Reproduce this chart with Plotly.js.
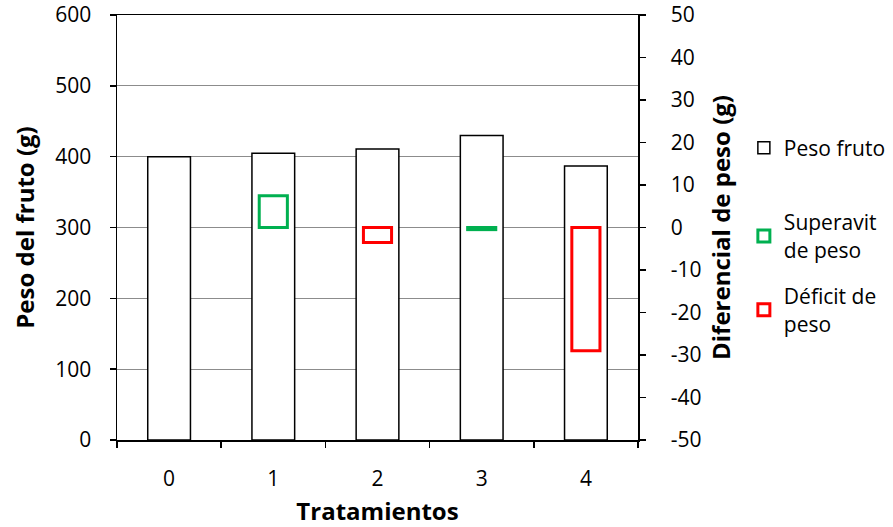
<!DOCTYPE html>
<html>
<head>
<meta charset="utf-8">
<script src="https://cdn.plot.ly/plotly-3.0.1.min.js"></script>
<style>html,body{margin:0;padding:0;background:#fff;}#chart{width:893px;height:527px;}</style>
</head>
<body>
<div id="chart"></div>
<script>
const categories = ["0", "1", "2", "3", "4"];
const pesoFruto = [400, 405, 411, 430, 387];
const superavit = [null, 7.5, null, -0.5, null];
const deficit = [null, null, -3.5, null, -29];
const yTicks = [0, 100, 200, 300, 400, 500, 600];
const y2Ticks = [-50, -40, -30, -20, -10, 0, 10, 20, 30, 40, 50];
const y2TickLabels = ["-50", "-40", "-30", "-20", "-10", "0", "10", "20", "30", "40", "50"];

const FONT = "Open Sans, sans-serif";

const traces = [
  {
    type: "bar", name: "Peso fruto", x: categories, y: pesoFruto,
    width: 0.41, marker: {color: "#ffffff", line: {color: "#000000", width: 1.5}},
    yaxis: "y", legend: "legend", hoverinfo: "skip"
  },
  {
    type: "bar", name: "Superavit<br>de peso", x: categories, y: superavit,
    width: 0.27, marker: {color: "#ffffff", line: {color: "#00B050", width: 3}},
    yaxis: "y2", legend: "legend2", hoverinfo: "skip"
  },
  {
    type: "bar", name: "Déficit de<br>peso", x: categories, y: deficit,
    width: 0.27, marker: {color: "#ffffff", line: {color: "#FF0000", width: 3}},
    yaxis: "y2", legend: "legend3", hoverinfo: "skip"
  }
];

const legendBase = {
  xref: "container", yref: "container",
  xanchor: "left", yanchor: "middle", bgcolor: "rgba(0,0,0,0)",
  font: {family: FONT, size: 21, color: "#000"}, itemwidth: 30
};

const layout = {
  width: 893, height: 527,
  margin: {l: 117, r: 255, t: 15, b: 87, autoexpand: false},
  paper_bgcolor: "#ffffff", plot_bgcolor: "#ffffff",
  barmode: "overlay",
  font: {family: FONT, size: 21, color: "#000"},
  xaxis: {
    type: "category", categoryorder: "array", categoryarray: categories,
    tickson: "boundaries", ticks: "outside", ticklen: 6, tickwidth: 1.5, tickcolor: "#000",
    showline: true, linecolor: "#000", linewidth: 1.5, mirror: true,
    showgrid: false, ticklabelstandoff: 19,
    tickfont: {family: FONT, size: 21},
    title: {text: "<b>Tratamientos</b>", font: {family: FONT, size: 24}, standoff: 14}
  },
  yaxis: {
    range: [0, 600], tickvals: yTicks, ticks: "outside", ticklen: 6, tickwidth: 1.5, tickcolor: "#000",
    showline: true, linecolor: "#000", linewidth: 1.5,
    showgrid: true, gridcolor: "#8c8c8c", gridwidth: 1, zeroline: false,
    ticklabelstandoff: 14, tickfont: {family: FONT, size: 21},
    title: {text: "<b>Peso del fruto (g)</b>", font: {family: FONT, size: 24}, standoff: 14}
  },
  yaxis2: {
    overlaying: "y", side: "right", range: [-50, 50], tickvals: y2Ticks, ticktext: y2TickLabels,
    ticks: "outside", ticklen: 6, tickwidth: 1.5, tickcolor: "#000",
    showline: true, linecolor: "#000", linewidth: 1.5,
    showgrid: false, zeroline: false,
    ticklabelstandoff: 21, tickfont: {family: FONT, size: 21},
    title: {text: "<b>Diferencial de peso (g)</b>", font: {family: FONT, size: 24}, standoff: 12}
  },
  legend: Object.assign({}, legendBase, {x: 0.833, y: 0.719}),
  legend2: Object.assign({}, legendBase, {x: 0.833, y: 0.552}),
  legend3: Object.assign({}, legendBase, {x: 0.833, y: 0.412}),
  showlegend: true
};

Plotly.newPlot("chart", traces, layout, {displayModeBar: false, staticPlot: true});
</script>
</body>
</html>
